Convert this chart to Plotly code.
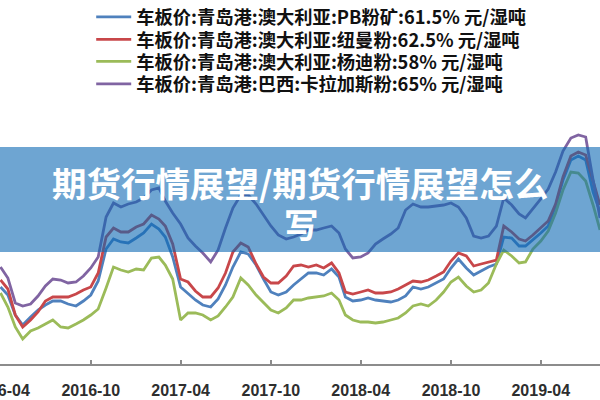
import plotly.graph_objects as go

# semi-monthly observation dates (1st and 16th of each month), 2016-04 .. 2019-07
months = []
for y in range(2016, 2020):
    for m in range(1, 13):
        if (y == 2016 and m < 4) or (y == 2019 and m > 7):
            continue
        months.append(f"{y}-{m:02d}")
dates = []
for ym in months:
    dates.append(ym + "-01")
    dates.append(ym + "-16")
dates.append("2019-07-30")

series_names = [
    "车板价:青岛港:澳大利亚:PB粉矿:61.5% 元/湿吨",
    "车板价:青岛港:澳大利亚:纽曼粉:62.5% 元/湿吨",
    "车板价:青岛港:澳大利亚:杨迪粉:58% 元/湿吨",
    "车板价:青岛港:巴西:卡拉加斯粉:65% 元/湿吨",
]

pb_fines = [426, 410, 370, 350, 366, 380, 390, 398, 398, 392, 388, 398, 410, 438, 502, 522,
            516, 514, 524, 534, 552, 542, 526, 486, 426, 412, 400, 390, 386, 402, 430, 466,
            496, 492, 470, 442, 416, 410, 416, 430, 442, 454, 454, 450, 462, 446, 406, 398,
            400, 404, 400, 398, 396, 400, 408, 426, 422, 426, 434, 442, 464, 482, 464, 450,
            458, 466, 472, 526, 524, 508, 508, 520, 534, 548, 588, 640, 680, 688, 680, 616, 576]
newman_fines = [440, 422, 370, 346, 360, 376, 398, 406, 406, 406, 412, 420, 426, 454, 526, 544,
                536, 536, 546, 552, 570, 562, 548, 512, 442, 436, 418, 406, 406, 424, 454, 496,
                514, 506, 472, 446, 434, 434, 448, 468, 470, 466, 470, 464, 474, 454, 416, 412,
                416, 420, 414, 414, 416, 422, 430, 438, 436, 440, 448, 456, 478, 494, 488, 468,
                472, 476, 480, 548, 536, 522, 518, 530, 544, 558, 592, 646, 688, 696, 690, 638, 590]
yandi_fines = [414, 386, 346, 322, 338, 344, 352, 360, 346, 344, 352, 360, 370, 382, 424, 466,
               460, 456, 462, 460, 484, 486, 470, 442, 360, 374, 374, 370, 360, 368, 386, 406,
               444, 430, 410, 394, 380, 374, 384, 400, 400, 404, 406, 408, 414, 400, 370, 360,
               356, 356, 354, 356, 360, 364, 374, 388, 392, 388, 400, 416, 436, 446, 428, 416,
               420, 434, 472, 500, 488, 474, 476, 502, 518, 538, 574, 620, 656, 654, 638, 590, 540]
carajas_fines = [466, 444, 394, 388, 392, 408, 428, 442, 440, 434, 436, 448, 464, 486, 566, 594,
                 586, 592, 596, 604, 620, 624, 598, 574, 552, 524, 508, 494, 476, 500, 544, 584,
                 610, 610, 592, 570, 548, 530, 522, 526, 532, 540, 540, 544, 548, 534, 502, 484,
                 486, 494, 512, 522, 532, 544, 580, 592, 586, 586, 588, 590, 594, 586, 564, 528,
                 524, 528, 548, 604, 590, 572, 564, 582, 602, 622, 656, 698, 724, 730, 726, 640, 564]

values = [pb_fines, newman_fines, yandi_fines, carajas_fines]
colors = ["#4F81BD", "#C8474A", "#9BBB59", "#8064A2"]

tick_dates = ["2016-04-01", "2016-10-01", "2017-04-01", "2017-10-01",
              "2018-04-01", "2018-10-01", "2019-04-01"]
tick_labels = ["2016-04", "2016-10", "2017-04", "2017-10", "2018-04", "2018-10", "2019-04"]

banner_line1 = "期货行情展望/期货行情展望怎么"
banner_line2 = "写"

legend_ids = ["legend", "legend2", "legend3", "legend4"]
legend_rows_px = [17, 39.5, 61.5, 84]

fig = go.Figure()
for name, vals, col, lid in zip(series_names, values, colors, legend_ids):
    fig.add_trace(go.Scatter(x=dates, y=vals, mode="lines", name=name, legend=lid,
                             line=dict(color=col, width=2.8)))

tick_font = dict(family="Liberation Sans", size=16, color="#2e2e2e", weight="bold")
legend_font = dict(family="Noto Sans CJK SC", size=18.3, color="#111111", weight="bold")

legend_layouts = {}
for lid, row in zip(legend_ids, legend_rows_px):
    legend_layouts[lid] = dict(x=0.152, y=1 - row / 364, xanchor="left", yanchor="middle",
                               bgcolor="rgba(0,0,0,0)", font=legend_font,
                               borderwidth=0, itemwidth=35)

fig.update_layout(
    width=600, height=400,
    margin=dict(l=0, r=0, t=0, b=36, autoexpand=False),
    paper_bgcolor="white", plot_bgcolor="white",
    showlegend=True,
    xaxis=dict(range=["2016-03-31", "2019-07-30"], showgrid=False, zeroline=False,
               showline=True, linecolor="#8c8c8c", linewidth=2, automargin=False,
               ticks="inside", ticklen=4, tickcolor="#8c8c8c", tickwidth=1.5,
               tickvals=tick_dates, ticktext=tick_labels, ticklabeloverflow="allow",
               tickfont=tick_font, ticklabelstandoff=11),
    yaxis=dict(range=[272, 1000], visible=False),
    **legend_layouts,
)

# translucent blue banner with title
fig.add_shape(type="rect", xref="paper", yref="paper", x0=0, x1=1,
              y0=1 - 252 / 364, y1=1 - 147 / 364,
              fillcolor="rgba(13,105,180,0.6)", line=dict(width=0), layer="above")
banner_font = dict(family="Noto Sans CJK SC", size=34.5, color="white", weight="bold")
fig.add_annotation(text=banner_line1, xref="paper", yref="paper", x=0.5, y=1 - 182 / 364,
                   xanchor="center", yanchor="middle", showarrow=False, font=banner_font)
fig.add_annotation(text=banner_line2, xref="paper", yref="paper", x=0.502, y=1 - 223 / 364,
                   xanchor="center", yanchor="middle", showarrow=False, font=banner_font)
# next tick label, cut by the right edge
fig.add_annotation(text="2019-10", xref="paper", yref="paper", x=631 / 600, y=-26 / 364,
                   xanchor="center", yanchor="middle", showarrow=False, font=tick_font)

fig.write_html("out.html")
